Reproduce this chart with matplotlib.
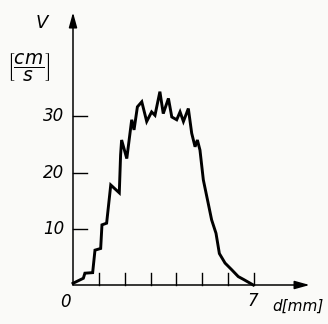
import matplotlib
matplotlib.use("Agg")
import matplotlib.pyplot as plt

# velocity profile: distance d [mm] and velocity V [cm/s]
d_mm = [0.0, 0.4, 0.46, 0.76, 0.85, 1.07, 1.12, 1.3, 1.46, 1.79, 1.84, 1.88,
        2.08, 2.27, 2.36, 2.49, 2.66, 2.85, 3.04, 3.17, 3.36, 3.49, 3.69,
        3.82, 4.01, 4.14, 4.27, 4.46, 4.59, 4.72, 4.81, 4.91, 5.04, 5.23,
        5.36, 5.53, 5.66, 5.88, 6.14, 6.39, 6.59, 6.97]
v_cms = [0.3, 1.2, 2.1, 2.2, 6.2, 6.5, 10.7, 11.0, 17.8, 16.4, 23.1, 25.8,
         22.5, 29.4, 27.6, 31.7, 32.6, 29.1, 30.8, 30.2, 34.4, 30.5, 33.2,
         29.9, 29.4, 30.8, 29.1, 31.4, 27.0, 24.6, 25.8, 24.0, 18.7, 14.5,
         11.6, 9.2, 5.6, 3.9, 2.7, 1.5, 1.0, 0.0]
x_ticks = [1, 2, 3, 4, 5, 6, 7]
y_ticks = [10, 20, 30]

plt.rcParams["mathtext.fontset"] = "dejavusans"

fig = plt.figure(figsize=(3.28, 3.24), dpi=100)
fig.patch.set_facecolor("#fafaf8")
ax = fig.add_axes([0, 0, 1, 1])
ax.set_facecolor("#fafaf8")
# pixel mapping: origin at (73, 285), 25.86 px per mm, 5.62 px per cm/s
ax.set_xlim(-73 / 25.86, (328 - 73) / 25.86)
ax.set_ylim(-(324 - 285) / 5.62, 285 / 5.62)
ax.axis("off")

# axes with arrows
ax.annotate("", xy=(9.15, 0), xytext=(0, 0),
            arrowprops=dict(arrowstyle="-|>,head_length=0.9,head_width=0.25",
                            color="black", lw=1.1, shrinkA=0, shrinkB=0))
ax.annotate("", xy=(0, 48.5), xytext=(0, 0),
            arrowprops=dict(arrowstyle="-|>,head_length=0.9,head_width=0.25",
                            color="black", lw=1.1, shrinkA=0, shrinkB=0))

for t in x_ticks:
    ax.plot([t, t], [0, 2.2], color="black", lw=1.0)
for t in y_ticks:
    ax.plot([0, 0.55], [t, t], color="black", lw=1.0)
    ax.text(-0.35, t, str(t), ha="right", va="center", fontsize=12,
            style="italic")

ax.plot(d_mm, v_cms, color="black", lw=2.1, solid_joinstyle="miter")

ax.text(-0.3, -1.5, "0", ha="center", va="top", fontsize=12, style="italic")
ax.text(6.95, -1.3, "7", ha="center", va="top", fontsize=12, style="italic")
ax.text(8.7, -3.8, "d[mm]", ha="center", va="center", fontsize=11,
        style="italic")
ax.text(-1.2, 46.6, "V", ha="center", va="center", fontsize=13,
        style="italic")
ax.text(-1.7, 38.8, r"$\left[\dfrac{cm}{s}\right]$", ha="center",
        va="center", fontsize=13.5)

fig.savefig("out.png", dpi=100, facecolor=fig.get_facecolor())
